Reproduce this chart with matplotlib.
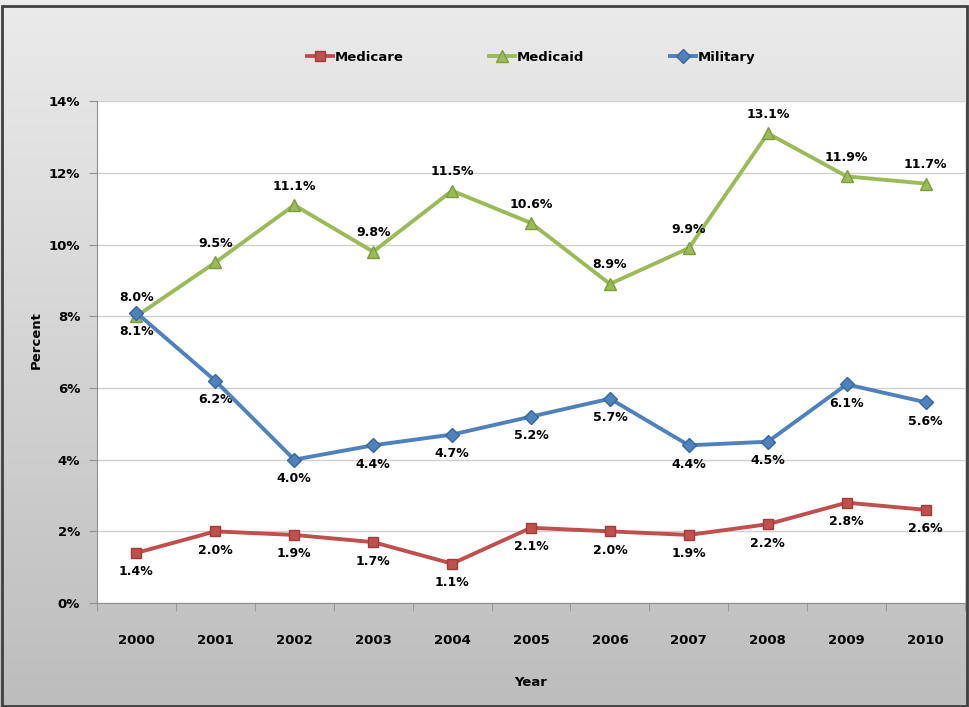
import numpy as np
import matplotlib
matplotlib.use("Agg")
import matplotlib.pyplot as plt
from matplotlib.patches import Rectangle
from matplotlib.ticker import FuncFormatter, FixedLocator

years = ["2000", "2001", "2002", "2003", "2004", "2005", "2006", "2007", "2008", "2009", "2010"]
medicare = [1.4, 2.0, 1.9, 1.7, 1.1, 2.1, 2.0, 1.9, 2.2, 2.8, 2.6]
medicaid = [8.0, 9.5, 11.1, 9.8, 11.5, 10.6, 8.9, 9.9, 13.1, 11.9, 11.7]
military = [8.1, 6.2, 4.0, 4.4, 4.7, 5.2, 5.7, 4.4, 4.5, 6.1, 5.6]

plt.rcParams["font.family"] = "DejaVu Sans"
plt.rcParams["font.weight"] = "bold"

fig = plt.figure(figsize=(9.69, 7.07), dpi=100)

# gray gradient background of the chart area
bg = fig.add_axes([0, 0, 1, 1], zorder=0)
grad = np.linspace(0, 1, 256).reshape(-1, 1)
bg.imshow(grad, aspect="auto", cmap=matplotlib.colors.LinearSegmentedColormap.from_list(
    "g", ["#ebebeb", "#bdbdbd"]), extent=[0, 1, 0, 1], origin="upper")
bg.add_patch(Rectangle((0.002, 0.002), 0.996, 0.989, fill=False, edgecolor="#404040",
                       lw=2.0, transform=bg.transAxes))
bg.set_xlim(0, 1)
bg.set_ylim(0, 1)
bg.axis("off")

ax = fig.add_axes([0.100, 0.147, 0.896, 0.710], zorder=1)
ax.set_facecolor("white")
x = np.arange(len(years))

ax.plot(x, medicare, color="#c0504d", lw=2.8, marker="s", ms=7.5,
        markerfacecolor="#c0504d", markeredgecolor="#a03c39", label="Medicare", zorder=3)
ax.plot(x, medicaid, color="#9bbb59", lw=2.8, marker="^", ms=8.5,
        markerfacecolor="#9bbb59", markeredgecolor="#7d9c3e", label="Medicaid", zorder=3)
ax.plot(x, military, color="#4f81bd", lw=2.8, marker="D", ms=7.5,
        markerfacecolor="#4f81bd", markeredgecolor="#3a679e", label="Military", zorder=4)

for i in x:
    ax.annotate(f"{medicaid[i]:.1f}%", (i, medicaid[i]), xytext=(0, 9),
                textcoords="offset points", ha="center", va="bottom", fontsize=9)
    ax.annotate(f"{military[i]:.1f}%", (i, military[i]), xytext=(0, -9),
                textcoords="offset points", ha="center", va="top", fontsize=9)
    ax.annotate(f"{medicare[i]:.1f}%", (i, medicare[i]), xytext=(0, -9),
                textcoords="offset points", ha="center", va="top", fontsize=9)

ax.set_xlim(-0.5, len(years) - 0.5)
ax.set_ylim(0, 14)
ax.set_yticks(np.arange(0, 15, 2))
ax.yaxis.set_major_formatter(FuncFormatter(lambda v, p: f"{v:.0f}%"))
ax.grid(axis="y", color="#d0d0d0", lw=1)
ax.set_axisbelow(True)

ax.set_xticks(x)
ax.set_xticklabels(years)
ax.xaxis.set_minor_locator(FixedLocator(np.arange(-0.5, len(years), 1)))
ax.tick_params(axis="x", which="major", length=0, pad=22, labelsize=9.5)
ax.tick_params(axis="x", which="minor", length=6, color="#909090", direction="out")
ax.tick_params(axis="y", length=6, color="#909090", labelsize=9.5, pad=6)

for s in ["top", "right"]:
    ax.spines[s].set_visible(False)
for s in ["left", "bottom"]:
    ax.spines[s].set_color("#909090")

fig.text(36 / 969, 1 - 340 / 707, "Percent", rotation=90, ha="center", va="center",
         fontsize=9.5, fontweight="bold")
fig.text(531 / 969, 1 - 683 / 707, "Year", ha="center", va="center",
         fontsize=9.5, fontweight="bold")

fig.legend(loc="center", bbox_to_anchor=(0.548, 0.919), ncol=3, frameon=False,
           fontsize=9.5, handlelength=2.0, columnspacing=6.5, handletextpad=0.1)

fig.savefig("out.png", dpi=100)
